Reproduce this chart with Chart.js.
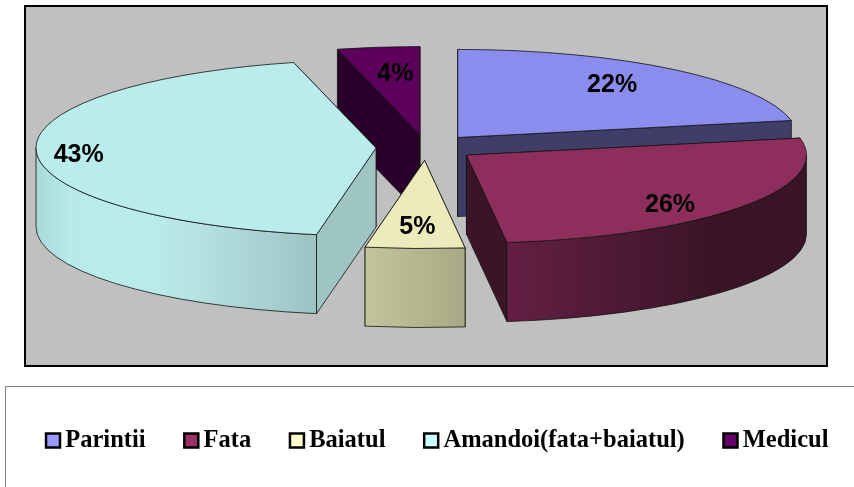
<!DOCTYPE html>
<html>
<head>
<meta charset="utf-8">
<style>html,body{margin:0;padding:0;background:#fff;overflow:hidden;width:854px;height:487px}canvas{display:block}</style>
<script src="https://cdn.jsdelivr.net/npm/chart.js@4"></script>
</head>
<body>
<canvas id="c" width="1000" height="487"></canvas>
<script>
const categories = ['Parintii', 'Fata', 'Baiatul', 'Amandoi(fata+baiatul)', 'Medicul'];
const shares = [21.9, 26.2, 4.7, 43.3, 3.9];

const topColors = ['#8a8cee', '#8e2e5c', '#ecebbb', '#bbecec', '#5c005c'];
const legendColors = ['#9999ff', '#993366', '#ffffcc', '#ccffff', '#660066'];
const cutColors = ['#3e3e68', '#3b1427', '#a8a884', '#9fc4c4', '#290029'];
const wallStops = [
  [],
  [[0, '#651f44'], [0.35, '#4e1a35'], [0.7, '#391426'], [1, '#391426']],
  [[0, '#c4c49c'], [1, '#a8a884']],
  [[0, '#a8d9d9'], [0.12, '#b9eaea'], [0.4, '#bbecec'], [0.6, '#b4e0e0'], [1, '#9dc3c3']],
  []
];
const paintOrder = [0, 4, 3, 2, 1];
const labelFractionX = [0.715, 0.74, 0.75, 0.875, 0.59];
const labelFractionY = [0.79, 0.94, 0.74, 1.7, 0.71];

const PIE_X = 426, PIE_Y = 147.5, TILT = 0.259, DEPTH = 79, EXPLODE = 50, RADIUS = 340;
const LEGEND_FIRST_X = 53, LEGEND_TOP = 382.5;
const total = shares.reduce((a, b) => a + b, 0);

const pie3d = {
  id: 'pie3d',
  afterLayout(chart) {
    const lg = chart.legend;
    const pad = lg.options.labels.padding;
    const startX = (lg.left + pad + lg.right - lg.lineWidths[0]) / 2;
    const dx = LEGEND_FIRST_X - startX;
    lg.left += dx;
    lg.right += dx;
    lg.top = LEGEND_TOP;
  },
  beforeDraw(chart) {
    const ctx = chart.ctx;
    ctx.save();
    ctx.fillStyle = '#c0c0c0';
    ctx.fillRect(25, 6, 802, 360);
    ctx.strokeStyle = '#000';
    ctx.lineWidth = 2;
    ctx.strokeRect(25, 6, 802, 360);
    ctx.strokeStyle = '#808080';
    ctx.lineWidth = 1;
    ctx.beginPath();
    ctx.moveTo(5.5, 487);
    ctx.lineTo(5.5, 386.5);
    ctx.lineTo(854, 386.5);
    ctx.stroke();
    ctx.restore();
  },
  beforeDatasetDraw(chart, args) {
    const ctx = chart.ctx;
    const arcs = chart.getDatasetMeta(args.index).data;
    const line = 'rgba(20,20,20,0.8)';
    paintOrder.forEach(i => {
      const el = arcs[i];
      const a0 = el.startAngle, a1 = el.endAngle, r = el.outerRadius;
      const mid = (a0 + a1) / 2;
      const cx = PIE_X + EXPLODE * Math.cos(mid);
      const cy = PIE_Y + TILT * EXPLODE * Math.sin(mid);
      ctx.save();
      ctx.lineWidth = 1;
      ctx.strokeStyle = line;
      ctx.lineJoin = 'round';
      [a0, a1].sort((p, q) => Math.sin(p) - Math.sin(q)).forEach(a => {
        const ex = cx + r * Math.cos(a), ey = cy + TILT * r * Math.sin(a);
        ctx.beginPath();
        ctx.moveTo(cx, cy);
        ctx.lineTo(ex, ey);
        ctx.lineTo(ex, ey + DEPTH);
        ctx.lineTo(cx, cy + DEPTH);
        ctx.closePath();
        ctx.fillStyle = cutColors[i];
        ctx.fill();
        ctx.stroke();
      });
      const lo = Math.max(a0, 0), hi = Math.min(a1, Math.PI);
      if (hi > lo && wallStops[i].length) {
        const xa = cx + r * Math.cos(hi), xb = cx + (lo <= 0 ? r : r * Math.cos(lo));
        const g = ctx.createLinearGradient(Math.min(xa, xb), 0, Math.max(xa, xb), 0);
        wallStops[i].forEach(s => g.addColorStop(s[0], s[1]));
        ctx.beginPath();
        ctx.ellipse(cx, cy, r, TILT * r, 0, lo, hi);
        ctx.ellipse(cx, cy + DEPTH, r, TILT * r, 0, hi, lo, true);
        ctx.closePath();
        ctx.fillStyle = g;
        ctx.fill();
        ctx.stroke();
      }
      ctx.save();
      ctx.transform(1, 0, 0, TILT, cx - el.x, cy - TILT * el.y);
      el.draw(ctx);
      ctx.restore();
      ctx.beginPath();
      ctx.moveTo(cx, cy);
      ctx.ellipse(cx, cy, r, TILT * r, 0, a0, a1);
      ctx.closePath();
      ctx.stroke();
      ctx.restore();
    });
    ctx.save();
    ctx.fillStyle = '#000';
    ctx.font = 'bold 25px "Liberation Sans", Arial, sans-serif';
    ctx.textAlign = 'center';
    ctx.textBaseline = 'middle';
    arcs.forEach((el, i) => {
      const mid = (el.startAngle + el.endAngle) / 2;
      const cx = PIE_X + EXPLODE * Math.cos(mid);
      const cy = PIE_Y + TILT * EXPLODE * Math.sin(mid);
      const tx = cx + labelFractionX[i] * el.outerRadius * Math.cos(mid);
      const ty = cy + labelFractionY[i] * TILT * el.outerRadius * Math.sin(mid);
      ctx.fillText(Math.round(shares[i] / total * 100) + '%', tx, ty + 1.5);
    });
    ctx.restore();
    return false;
  }
};

new Chart(document.getElementById('c'), {
  type: 'pie',
  data: {
    labels: categories,
    datasets: [{
      data: shares,
      backgroundColor: topColors,
      borderWidth: 0,
      radius: RADIUS
    }]
  },
  options: {
    responsive: false,
    animation: false,
    events: [],
    plugins: {
      tooltip: { enabled: false },
      legend: {
        display: true,
        position: 'bottom',
        labels: {
          usePointStyle: true,
          boxWidth: 0.01,
          boxHeight: 14,
          padding: 45.75,
          color: '#000',
          font: { family: '"Liberation Serif", "Times New Roman", serif', size: 24.5, weight: 'bold' },
          generateLabels() {
            return categories.map((t, i) => ({
              text: t, index: i, fillStyle: legendColors[i], strokeStyle: '#000',
              lineWidth: 2.5, pointStyle: 'rect', hidden: false, fontColor: '#000'
            }));
          }
        }
      }
    }
  },
  plugins: [pie3d]
});
</script>
</body>
</html>
